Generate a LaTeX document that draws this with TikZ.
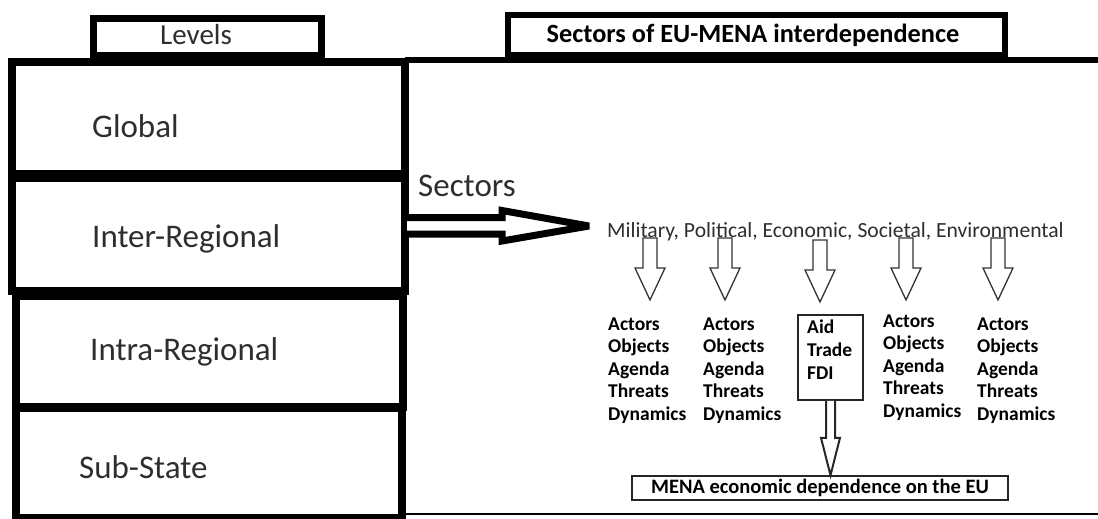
\documentclass[tikz,border=0pt]{standalone}
\usepackage{fontspec}
\setmainfont{Carlito}
\usetikzlibrary{calc}
\definecolor{txt}{HTML}{2E2E2E}
\begin{document}
\begin{tikzpicture}[x=1pt,y=-1pt,
  box/.style={draw=black, line width=8pt, fill=white, inner sep=0pt},
  tabbox/.style={draw=black, fill=white, inner sep=0pt},
  lvltext/.style={anchor=base west, inner sep=0pt, text=txt, font=\fontsize{33}{40}\selectfont},
  coltext/.style={anchor=base west, inner sep=0pt, align=left, text=black, font=\bfseries\fontsize{19.5}{22.5}\selectfont},
  thinarrow/.style={draw=black!80, line width=1.3pt, fill=white, line join=miter},
  downarr/.pic={\draw[thinarrow] (-7,0) -- (7,0) -- (7,30) -- (15,30) -- (0,62) -- (-15,30) -- (-7,30) -- cycle;}
]
\useasboundingbox[fill=white] (0,0) rectangle (1098,519);

% tabs
\node[tabbox, line width=7pt, minimum width=228pt, minimum height=37pt] (levtab) at (207.5,37) {};
\node[anchor=base west, inner sep=0pt, text=txt, font=\fontsize{29}{34}\selectfont] (levtxt) at (160,45) {Levels};
\node[tabbox, line width=6pt, minimum width=496.5pt, minimum height=40pt] (sectab) at (756.25,35) {};
\node[anchor=base, inner sep=0pt, text=black, font=\bfseries\fontsize{26.3}{30}\selectfont] (sectxt) at (753,43) {Sectors of EU-MENA interdependence};

% right frame
\coordinate (frtl) at (405,60);
\coordinate (frtr) at (1098,60);
\draw[line width=6pt] (frtl) -- (frtr);
\coordinate (frbl) at (403,514);
\coordinate (frbr) at (1098,514);
\draw[line width=2.5pt] (frbl) -- (frbr);

% level boxes
\node[box, minimum width=393pt, minimum height=112pt] (global) at (208.5,118) {};
\node[box, minimum width=393pt, minimum height=113pt] (inter) at (208.5,234.5) {};
\node[box, minimum width=387pt, minimum height=111pt] (intra) at (209.5,351.5) {};
\node[box, minimum width=386pt, minimum height=110pt] (sub) at (209,463) {};
\node[lvltext] (globaltxt) at (92,137) {Global};
\node[lvltext] (intertxt) at (92,247) {Inter-Regional};
\node[lvltext] (intratxt) at (90,360) {Intra-Regional};
\node[lvltext] (subtxt) at (79,478) {Sub-State};

% big arrow
\node[anchor=base west, inner sep=0pt, text=txt, font=\fontsize{33}{40}\selectfont] (sectors) at (418,196) {Sectors};
\node[anchor=base west, inner sep=0pt, text=txt, font=\fontsize{21.6}{26}\selectfont] (list) at (607,237) {Military, Political, Economic, Societal, Environmental};
\draw[line width=7pt, fill=white, line join=miter, miter limit=3]
  ($(inter.east)+(-2,-17)$) -- ++(95,0) -- ++(0,-7) -- ($(list.base west)+(-18,-11)$)
  -- ($(inter.east)+(93,6.5)$) -- ++(0,-7) -- ($(inter.east)+(-2,-0.5)$);

% small arrows
\pic at (650,238) {downarr};
\pic at (725,238) {downarr};
\pic at (820,240) {downarr};
\pic at (906,238) {downarr};
\pic at (998,238) {downarr};

% columns (base anchor = last line)
\node[coltext] (c1) at (608,420) {Actors\\Objects\\Agenda\\Threats\\Dynamics};
\node[coltext] (c2) at (703,420) {Actors\\Objects\\Agenda\\Threats\\Dynamics};
\node[coltext] (c4) at (883,417) {Actors\\Objects\\Agenda\\Threats\\Dynamics};
\node[coltext] (c5) at (977,420) {Actors\\Objects\\Agenda\\Threats\\Dynamics};
\node[draw=black!85, line width=1.5pt, minimum width=65pt, minimum height=85pt, inner sep=0pt] (aid) at (830.5,357.5) {};
\node[coltext, font=\bfseries\fontsize{19.5}{23}\selectfont] (aidtxt) at (807,379) {Aid\\Trade\\FDI};

% MENA box
\node[draw=black!85, line width=1.5pt, minimum width=376pt, minimum height=24pt, inner sep=0pt, text=black, font=\bfseries\fontsize{20.5}{24}\selectfont] (mena) at (820,488) {MENA economic dependence on the EU};

% aid -> mena arrow
\draw[draw=black!85, line width=2pt, fill=white, line join=miter]
  ($(aid.south)+(-4.5,0)$) -- ++(0,37) -- ++(-5,0) -- (aid.south |- mena.north)
  -- ($(aid.south)+(9.5,37)$) -- ++(-5,0) -- ($(aid.south)+(4.5,0)$);
\end{tikzpicture}
\end{document}
